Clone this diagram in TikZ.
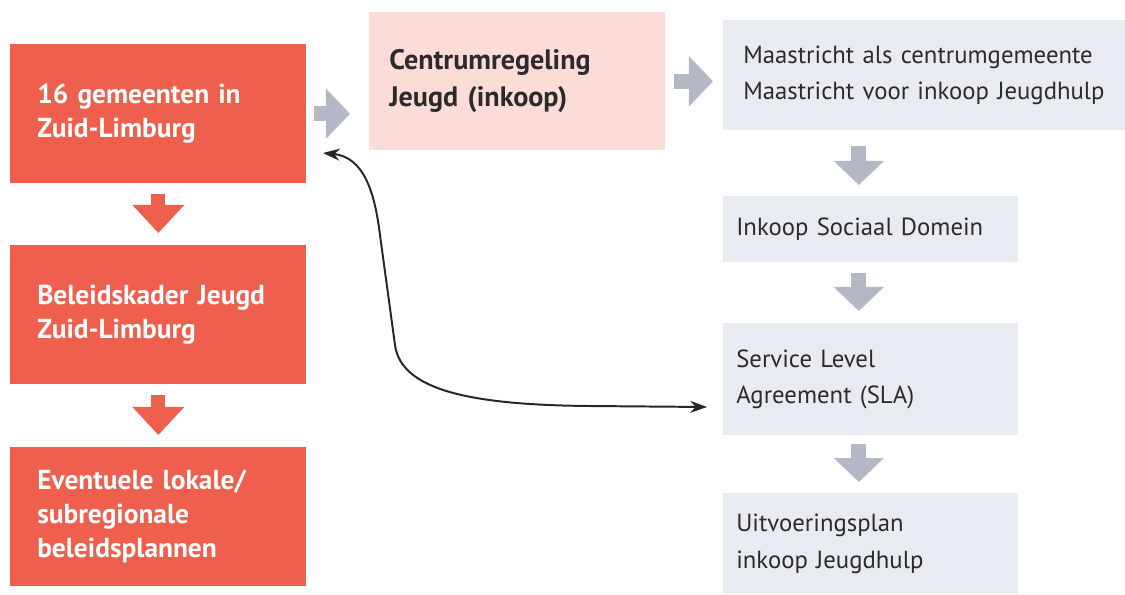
\documentclass[tikz,border=0pt]{standalone}
\usepackage{fontspec}
\setmainfont{PT Sans}
\usetikzlibrary{arrows.meta}
\definecolor{zlred}{HTML}{EF5F4E}
\definecolor{zlpink}{HTML}{FBDCD6}
\definecolor{zlblue}{HTML}{E9EBF3}
\definecolor{zlgray}{HTML}{B4B8C6}
\definecolor{zltext}{HTML}{2B2B2B}
\begin{document}
\begin{tikzpicture}[x=0.025cm,y=-0.025cm,
  redbox/.style={fill=zlred,text=white,font=\bfseries\fontsize{19.5}{24.2}\selectfont,
    anchor=north west,minimum width=7.4cm,minimum height=3.475cm,
    inner xsep=0.675cm,text width=6.05cm,align=left},
  pinkbox/.style={fill=zlpink,text=zltext,font=\bfseries\fontsize{20}{26.5}\selectfont,
    anchor=north west,minimum width=7.4cm,minimum height=3.45cm,
    inner xsep=0.5cm,text width=6.4cm,align=left},
  bluebox/.style={fill=zlblue,text=zltext,font=\fontsize{17.6}{26}\selectfont,
    anchor=north west,minimum width=7.375cm,
    inner xsep=0.325cm,text width=6.725cm,align=left},
  redarrow/.style={draw=zlred,line width=0.35cm,-{Triangle[width=1.25cm,length=0.7cm]},
    shorten <=0.25cm,shorten >=0.3cm},
  grayarrow/.style={draw=zlgray,line width=0.38cm,-{Triangle[width=1.22cm,length=0.6cm]},
    shorten <=0.25cm,shorten >=0.3cm},
  linkarrow/.style={draw=black!85,line width=1.4pt,{Stealth[length=0.42cm,width=0.3cm]}-{Stealth[length=0.42cm,width=0.3cm]}}]

  \useasboundingbox[fill=white] (0,0) rectangle (1125,594);

  % RED COLUMN
  \node[redbox] (gem) at (10,44) {16 gemeenten in\\Zuid-Limburg};
  \node[redbox] (beleid) at (10,245) {Beleidskader Jeugd\\Zuid-Limburg};
  \node[redbox] (lokaal) at (10,447) {Eventuele lokale/\\subregionale\\beleidsplannen};

  % CENTRUMREGELING
  \node[pinkbox] (centrum) at (369,12) {Centrumregeling\\Jeugd (inkoop)};

  % RIGHT COLUMN
  \node[bluebox,minimum width=10.05cm,minimum height=2.75cm,inner xsep=0.5cm,text width=9.05cm]
    (maas) at (723,20) {Maastricht als centrumgemeente\\Maastricht voor inkoop Jeugdhulp};
  \node[bluebox,minimum height=1.65cm] (inkoop) at (723,196) {Inkoop Sociaal Domein};
  \node[bluebox,minimum height=2.8cm] (sla) at (723,323) {Service Level\\Agreement (SLA)};
  \node[bluebox,minimum height=2.525cm] (uitv) at (723,493) {Uitvoeringsplan\\inkoop Jeugdhulp};

  \draw[redarrow] (gem.south) -- (beleid.north);
  \draw[redarrow] (beleid.south) -- (lokaal.north);

  \draw[grayarrow,shorten <=0.175cm,shorten >=0.475cm] (gem.east) -- (gem.east -| centrum.west);
  \draw[grayarrow,shorten <=0.2cm,shorten >=0.25cm] (centrum.east) -- (centrum.east -| maas.west);
  \draw[grayarrow,shorten <=0.375cm,shorten >=0.275cm] ([xshift=-0.3cm]inkoop.north |- maas.south) -- ([xshift=-0.3cm]inkoop.north);
  \draw[grayarrow] ([xshift=-0.3cm]inkoop.south) -- ([xshift=-0.3cm]sla.north);
  \draw[grayarrow,shorten <=0.2cm,shorten >=0.275cm] ([xshift=-0.3cm]sla.south) -- ([xshift=-0.3cm]uitv.north);

  % link between gemeenten and SLA
  \coordinate (linkgem) at (323,153);
  \coordinate (linksla) at (707,407);
  \draw[linkarrow] (linkgem) .. controls (365,157) and (375,195) .. (380,235)
    -- (395,345) .. controls (401,390) and (470,405) .. (590,406) -- (linksla);
\end{tikzpicture}
\end{document}
